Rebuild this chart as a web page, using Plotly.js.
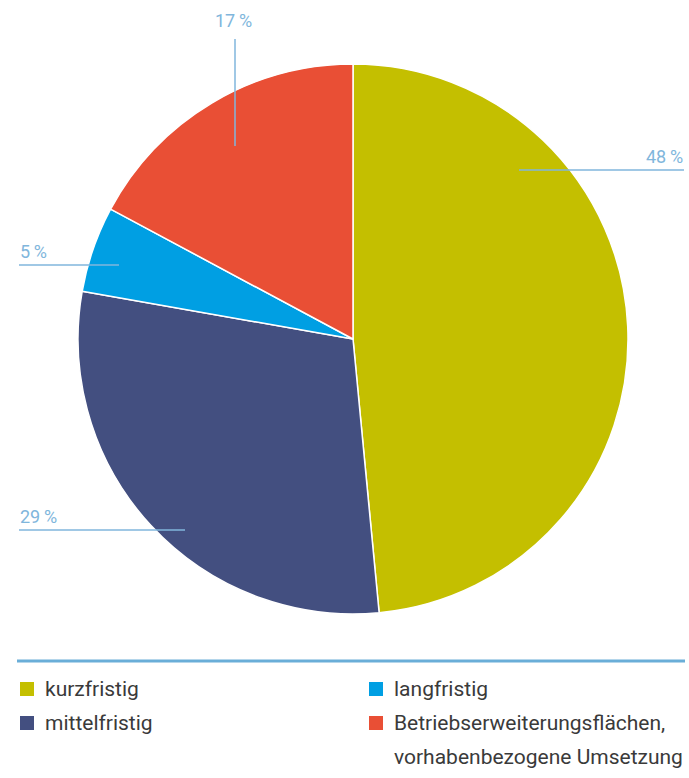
<!DOCTYPE html>
<html><head><meta charset="utf-8">
<script src="https://cdn.plot.ly/plotly-3.0.1.min.js"></script>
<style>html,body{margin:0;padding:0;background:#fff}#c{width:689px;height:778px}</style>
</head><body><div id="c"></div>
<script>
const categories = ["kurzfristig", "mittelfristig", "langfristig", "Betriebserweiterungsflächen, vorhabenbezogene Umsetzung"];
const legendLines = [["kurzfristig"], ["mittelfristig"], ["langfristig"], ["Betriebserweiterungsflächen,", "vorhabenbezogene Umsetzung"]];
const values = [48, 29, 5, 17];
const colors = ["#c4bf00", "#434f80", "#009fe3", "#e94f35"];

const W = 689, H = 778;
const px = x => x / W, py = y => 1 - y / H;
const FONT = "Roboto, 'DejaVu Sans', sans-serif";
const LBL = "#80b6dc";

// leader lines / label placement (decoration positions, pixels)
const labelCfg = [
  {line: [519, 170, 684, 170], tx: 685, ty: 157, xa: "right"},
  {line: [185, 530, 19, 530], tx: 18, ty: 516, xa: "left"},
  {line: [119, 265, 19, 265], tx: 18, ty: 251, xa: "left"},
  {line: [235, 146, 235, 39], tx: 233, ty: 21, xa: "center"}
];

const shapes = [], annotations = [];
labelCfg.forEach((c, i) => {
  shapes.push({type: "line", xref: "paper", yref: "paper",
    x0: px(c.line[0]), y0: py(c.line[1]), x1: px(c.line[2]), y1: py(c.line[3]),
    line: {color: LBL, width: 1.5}});
  annotations.push({xref: "paper", yref: "paper", x: px(c.tx), y: py(c.ty),
    xanchor: c.xa, yanchor: "middle", showarrow: false,
    text: values[i] + "\u2009%", font: {family: FONT, size: 18, color: LBL}});
});

// legend separator
shapes.push({type: "line", xref: "paper", yref: "paper", x0: px(17), x1: px(685), y0: py(661), y1: py(661),
  line: {color: "#6aaed8", width: 3}});

// custom legend: order like reference
const legendPos = [
  {i: 0, x: 20, y: 689}, {i: 2, x: 369, y: 689},
  {i: 1, x: 20, y: 723}, {i: 3, x: 369, y: 723}
];
legendPos.forEach(p => {
  shapes.push({type: "rect", xref: "paper", yref: "paper",
    x0: px(p.x), x1: px(p.x + 14), y0: py(p.y - 7), y1: py(p.y + 7),
    fillcolor: colors[p.i], line: {width: 0}});
  legendLines[p.i].forEach((t, k) => {
    annotations.push({xref: "paper", yref: "paper", x: px(p.x + 23), y: py(p.y + 34 * k),
      xanchor: "left", yanchor: "middle", align: "left", showarrow: false,
      text: t, font: {family: FONT, size: 21, color: "#3a3a3a"}});
  });
});

const trace = {
  type: "pie", labels: categories, values: values, sort: false,
  direction: "clockwise", rotation: 0,
  marker: {colors: colors, line: {color: "#ffffff", width: 1.5}},
  textinfo: "none", hoverinfo: "label+percent",
  domain: {x: [px(78), px(628)], y: [py(614), py(64)]},
  showlegend: false
};

Plotly.newPlot("c", [trace], {
  width: W, height: H, margin: {l: 0, r: 0, t: 0, b: 0},
  paper_bgcolor: "#fff", showlegend: false,
  shapes: shapes, annotations: annotations,
  font: {family: FONT}
}, {staticPlot: true});
</script></body></html>
